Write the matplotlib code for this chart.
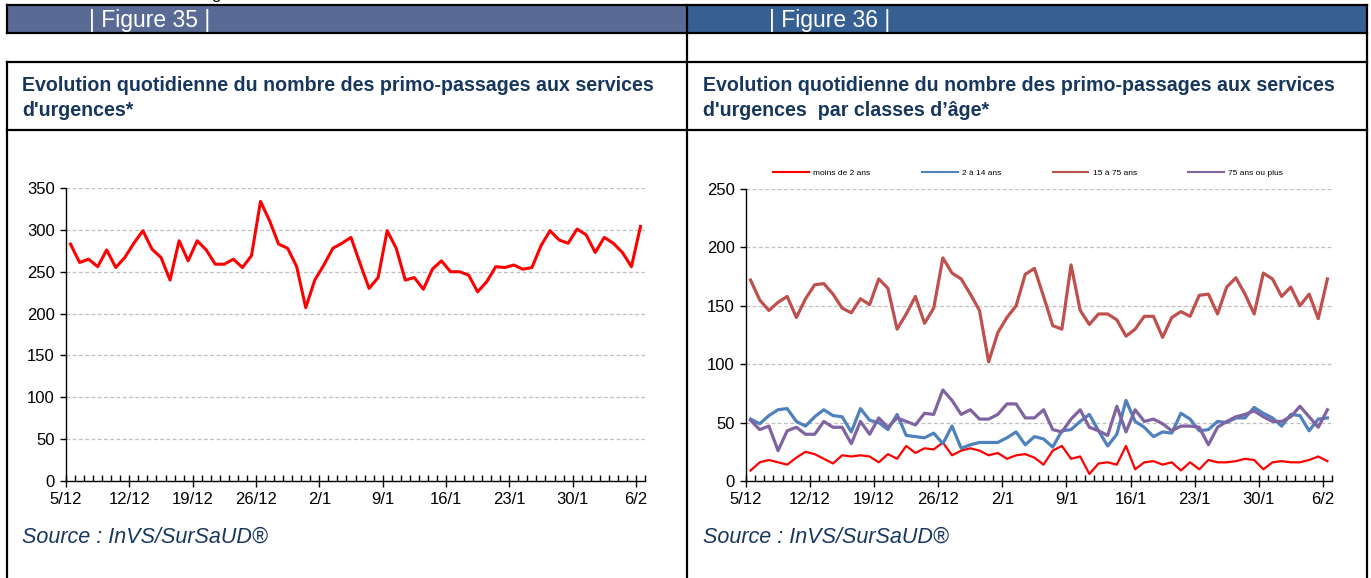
import matplotlib
matplotlib.use("Agg")
import matplotlib.pyplot as plt
from matplotlib.patches import Rectangle

plt.rcParams['font.family'] = ['Liberation Sans', 'DejaVu Sans']

W, H = 1371, 578
NAVY = '#17375e'

# jours du 5/12 au 6/2, une valeur par jour
date_labels = ['5/12', '12/12', '19/12', '26/12', '2/1', '9/1', '16/1', '23/1', '30/1', '6/2']

total = [283, 261, 265, 256, 276, 255, 267, 284, 299, 277, 267, 240, 287, 263, 287, 276,
         259, 259, 265, 255, 269, 334, 311, 283, 278, 256, 207, 240, 258, 278, 284, 291,
         260, 230, 243, 299, 278, 240, 243, 229, 253, 263, 250, 250, 246, 226, 238, 256,
         255, 258, 253, 255, 281, 299, 288, 284, 301, 294, 273, 291, 284, 273, 256, 304]

moins_2 = [9, 16, 18, 16, 14, 20, 25, 23, 19, 15, 22, 21, 22, 21, 16, 23,
           19, 30, 24, 28, 27, 33, 22, 26, 28, 26, 22, 24, 19, 22, 23, 20,
           14, 26, 30, 19, 21, 6, 15, 16, 14, 30, 10, 16, 17, 14, 16, 9,
           16, 10, 18, 16, 16, 17, 19, 18, 10, 16, 17, 16, 16, 18, 21, 17]

age_2_14 = [53, 49, 56, 61, 62, 51, 47, 55, 61, 56, 55, 42, 62, 52, 50, 44,
            57, 39, 38, 37, 41, 32, 47, 28, 31, 33, 33, 33, 37, 42, 31, 38,
            36, 29, 43, 44, 51, 57, 43, 30, 40, 69, 51, 46, 38, 42, 41, 58,
            53, 43, 44, 51, 50, 54, 54, 63, 58, 54, 47, 57, 56, 43, 53, 54]

age_15_75 = [172, 155, 146, 153, 158, 140, 156, 168, 169, 160, 148, 144, 156, 151, 173, 165,
             130, 143, 158, 135, 148, 191, 178, 173, 160, 146, 102, 127, 140, 150, 177, 182,
             158, 133, 130, 185, 146, 134, 143, 143, 138, 124, 130, 141, 141, 123, 140, 145,
             141, 159, 160, 143, 166, 174, 160, 143, 178, 173, 158, 166, 150, 160, 139, 173]

age_75_plus = [52, 44, 47, 26, 43, 46, 40, 40, 51, 46, 46, 32, 51, 40, 54, 46,
               54, 51, 48, 58, 57, 78, 69, 57, 61, 53, 53, 57, 66, 66, 54, 54,
               61, 44, 42, 53, 61, 46, 43, 39, 64, 42, 61, 51, 53, 49, 43, 47,
               47, 46, 31, 46, 51, 55, 57, 60, 55, 51, 51, 55, 64, 55, 46, 61]

series_36 = [
    ('moins de 2 ans', moins_2, '#ff0000', 1.6),
    ('2 à 14 ans', age_2_14, '#4f81bd', 2.3),
    ('15 à 75 ans', age_15_75, '#c0504d', 2.3),
    ('75 ans ou plus', age_75_plus, '#8064a2', 2.3),
]

fig = plt.figure(figsize=(W / 100, H / 100), dpi=100)

# fond : cadres du tableau en coordonnées pixels
bg = fig.add_axes([0, 0, 1, 1])
bg.set_xlim(0, W)
bg.set_ylim(H, 0)
bg.axis('off')

bg.add_patch(Rectangle((7, 5), 680, 28, facecolor='#596b95', edgecolor='none'))
bg.add_patch(Rectangle((687, 5), 680, 28, facecolor='#366092', edgecolor='none'))
lw = 1.6
for y in (5, 33, 62, 130):
    bg.plot([7, 1367], [y, y], color='black', lw=lw, solid_capstyle='projecting')
bg.plot([7, 7], [5, 33], color='black', lw=lw)
bg.plot([7, 7], [62, H + 5], color='black', lw=lw)
bg.plot([687, 687], [5, H + 5], color='black', lw=lw)
bg.plot([1367, 1367], [5, H + 5], color='black', lw=lw)

bg.text(211, -1, 'g', color='black', fontsize=12, va='baseline', ha='left')
bg.text(89, 20, '| Figure 35 |', color='white', fontsize=16.5, va='center', ha='left')
bg.text(769, 20, '| Figure 36 |', color='white', fontsize=16.5, va='center', ha='left')

titles = ["Evolution quotidienne du nombre des primo-passages aux services\nd'urgences*",
          "Evolution quotidienne du nombre des primo-passages aux services\nd'urgences  par classes d\u2019âge*"]
for x0, t in zip((22, 703), titles):
    bg.text(x0, 76, t, color=NAVY, fontsize=14.1, fontweight='bold', va='top', ha='left',
            linespacing=1.38)
    bg.text(x0, 537, 'Source : InVS/SurSaUD®', color=NAVY, fontsize=15.5, style='italic',
            va='center', ha='left')


def px_axes(x0, y0, x1, y1):
    return fig.add_axes([x0 / W, 1 - y1 / H, (x1 - x0) / W, (y1 - y0) / H])


def style_axes(ax, ymax, step):
    n = len(total)
    ax.set_facecolor('none')
    ax.set_xlim(0, n)
    ax.set_ylim(0, ymax)
    ax.set_yticks(range(0, ymax + 1, step))
    ax.set_xticks(range(0, n, 7))
    ax.set_xticklabels(date_labels)
    ax.set_xticks(range(0, n + 1), minor=True)
    ax.grid(axis='y', color='#bfbfbf', linestyle=(0, (3, 2)), linewidth=0.9)
    ax.set_axisbelow(True)
    for s in ('top', 'right'):
        ax.spines[s].set_visible(False)
    for s in ('left', 'bottom'):
        ax.spines[s].set_linewidth(1.0)
    ax.tick_params(axis='y', direction='out', length=4, width=1, labelsize=12, pad=4)
    ax.tick_params(axis='x', which='major', direction='inout', length=8, width=1,
                   labelsize=12, pad=4)
    ax.tick_params(axis='x', which='minor', direction='in', length=4, width=1)


days = [i + 0.5 for i in range(len(total))]

ax1 = px_axes(66, 188, 645, 481)
style_axes(ax1, 350, 50)
ax1.plot(days, total, color='#ff0000', lw=2.2)

ax2 = px_axes(746, 189, 1332, 481)
style_axes(ax2, 250, 50)
for name, vals, col, w in series_36:
    ax2.plot(days, vals, color=col, lw=w, label=name)

leg = ax2.legend(loc='center left', bbox_to_anchor=(0.046, 1.055), ncol=4, frameon=False,
                 fontsize=6, handlelength=4.3, handletextpad=0.5, columnspacing=6.2,
                 borderpad=0, borderaxespad=0)
for h in leg.get_lines():
    h.set_linewidth(1.5)

fig.savefig('out.png', dpi=100)
